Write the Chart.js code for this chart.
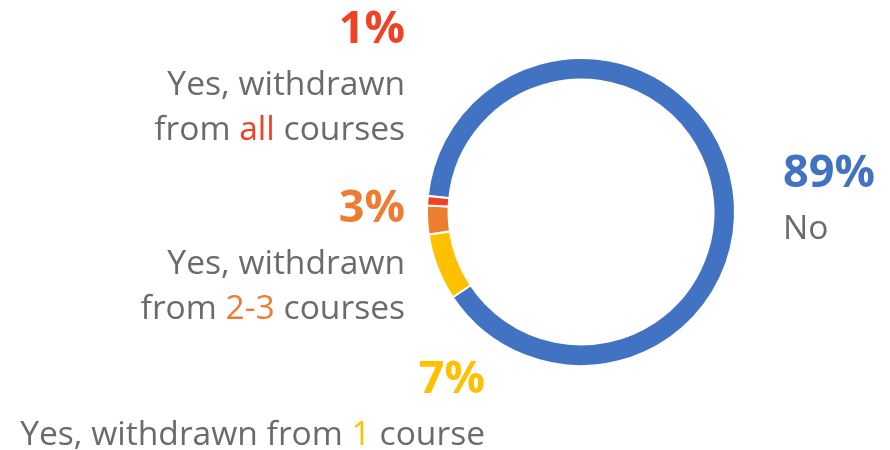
<!DOCTYPE html>
<html>
<head>
<meta charset="utf-8">
<script src="https://cdn.jsdelivr.net/npm/chart.js@4.4.0/dist/chart.umd.min.js"></script>
<style>
  html, body { margin: 0; padding: 0; background: #fff; }
  #wrap { width: 890px; height: 450px; }
</style>
</head>
<body>
<div id="wrap"><canvas id="donut"></canvas></div>
<script>
// data
const categories = ['No', 'Yes, withdrawn from 1 course', 'Yes, withdrawn from 2-3 courses', 'Yes, withdrawn from all courses'];
const shares = [89, 7, 3, 1];
const highlights = ['', '1', '2-3', 'all'];
const sliceColors = ['#4173C2', '#FFC000', '#ED7D31', '#EF4123'];
const textGray = '#6b6b6b';

// where each label sits, relative to the ring centre (dx, pct baseline dy, align, line breaks)
const labelPlaces = [
  { dx: 47, dy: -25, align: 'left', lines: ['No'] },
  { dx: -96, dy: 181, align: 'right', lines: ['Yes, withdrawn from 1 course'] },
  { dx: -176, dy: 10, align: 'right', lines: ['Yes, withdrawn', 'from 2-3 courses'] },
  { dx: -176, dy: -169, align: 'right', lines: ['Yes, withdrawn', 'from all courses'] }
];

function drawLine(ctx, text, word, color, x, y, align){
  let parts = [text];
  if(word && text.indexOf(' ' + word + ' ') >= 0){
    let i = text.indexOf(' ' + word + ' ') + 1;
    parts = [text.slice(0, i), word, text.slice(i + word.length)];
  }
  let total = ctx.measureText(text).width;
  let start = align == 'right' ? x - total : x;
  ctx.textAlign = 'left';
  parts.forEach((p, k)=>{
    ctx.fillStyle = (parts.length == 3 && k == 1) ? color : textGray;
    ctx.fillText(p, start, y);
    start += ctx.measureText(p).width;
  });
}

const sliceLabels = {
  id: 'sliceLabels',
  afterDraw(chart){
    const ctx = chart.ctx;
    const arc = chart.getDatasetMeta(0).data[0];
    const cx = arc.x, cy = arc.y, r = arc.outerRadius + 1;
    ctx.save();
    ctx.textBaseline = 'alphabetic';
    labelPlaces.forEach((pl, i)=>{
      let x = pl.dx > 0 ? cx + r + pl.dx : cx + pl.dx;
      let y = cy + pl.dy;
      ctx.font = 'bold 45px "Open Sans"';
      ctx.fillStyle = sliceColors[i];
      ctx.textAlign = pl.align;
      ctx.fillText(shares[i] + '%', x, y);
      ctx.font = '33.6px "Open Sans"';
      let ly = y + 52;
      pl.lines.forEach((ln)=>{
        drawLine(ctx, ln, highlights[i], sliceColors[i], pl.align == 'right' ? x : x, ly, pl.align);
        ly += 45;
      });
    });
    ctx.restore();
  }
};

const dataChart = {
  labels: categories,
  datasets: [{
    data: shares,
    backgroundColor: sliceColors,
    borderColor: '#ffffff',
    borderWidth: 2,
    borderJoinStyle: 'miter'
  }]
};

const donut = new Chart(document.getElementById('donut'), {
  type: 'doughnut',
  data: dataChart,
  options: {
    responsive: true,
    maintainAspectRatio: false,
    animation: false,
    rotation: -84,
    cutout: '86%',
    layout: { padding: { left: 426, right: 154, top: 56, bottom: 82 } },
    plugins: {
      legend: { display: false },
      tooltip: { enabled: false }
    }
  },
  plugins: [sliceLabels]
});
</script>
</body>
</html>
